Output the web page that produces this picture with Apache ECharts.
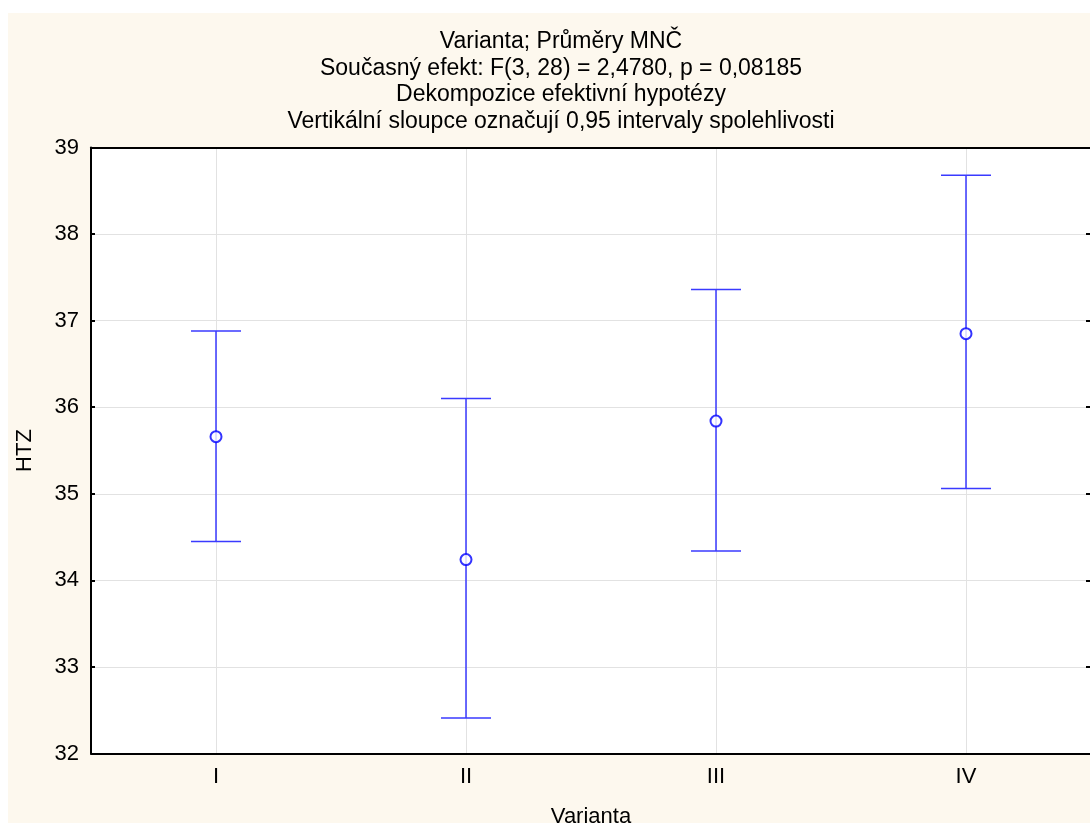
<!DOCTYPE html>
<html>
<head>
<meta charset="utf-8">
<script src="https://cdn.jsdelivr.net/npm/echarts@6/dist/echarts.min.js"></script>
<style>
  html, body { margin: 0; padding: 0; background: #ffffff; }
  #chart { position: absolute; left: 8px; top: 13px; width: 1082px; height: 810px; }
</style>
</head>
<body>
<div id="chart"></div>
<script>
// data
const categories = ['I', 'II', 'III', 'IV']
const means = [35.66, 34.24, 35.84, 36.85]
const lower = [34.45, 32.41, 34.34, 35.06]
const upper = [36.88, 36.10, 37.36, 38.68]
const yTicks = [32, 33, 34, 35, 36, 37, 38, 39]

const titleLines = [
  'Varianta; Průměry MNČ',
  'Současný efekt: F(3, 28) = 2,4780, p = 0,08185',
  'Dekompozice efektivní hypotézy',
  'Vertikální sloupce označují 0,95 intervaly spolehlivosti'
]

const font = 'Liberation Sans, Arial, sans-serif'
const blue = '#0000ff'
const barBlue = '#3a3aff'

const errData = categories.map((c, i) => [i, lower[i], upper[i]])

const chart = echarts.init(document.getElementById('chart'))
chart.setOption({
  backgroundColor: '#fdf8ee',
  animation: false,
  title: {
    text: titleLines.join('\n'),
    left: 548,
    top: 10,
    textAlign: 'center',
    textStyle: {
      fontFamily: font,
      fontSize: 23,
      fontWeight: 'normal',
      color: '#000',
      lineHeight: 26.8
    }
  },
  grid: {
    left: 83,
    top: 134.5,
    right: -1,
    bottom: 69.5,
    outerBoundsMode: 'none',
    containLabel: false,
    backgroundColor: '#ffffff',
    show: true,
    borderWidth: 0
  },
  xAxis: [{
    type: 'category',
    data: categories,
    boundaryGap: true,
    name: 'Varianta',
    nameLocation: 'middle',
    nameGap: 52,
    nameTextStyle: { fontFamily: font, fontSize: 22, color: '#000' },
    axisLine: { lineStyle: { color: '#000', width: 2 } },
    axisTick: { alignWithLabel: true, inside: true, length: 4, lineStyle: { color: '#000', width: 2 } },
    axisLabel: { fontFamily: font, fontSize: 22, color: '#000', margin: 12 },
    splitLine: { show: true, alignWithLabel: true, lineStyle: { color: '#e2e2e2', width: 1 } }
  }, {
    type: 'category',
    data: categories,
    position: 'top',
    boundaryGap: true,
    axisLine: { lineStyle: { color: '#000', width: 2 } },
    axisTick: { alignWithLabel: true, inside: true, length: 4, lineStyle: { color: '#000', width: 2 } },
    axisLabel: { show: false },
    splitLine: { show: false }
  }],
  yAxis: [{
    type: 'value',
    min: yTicks[0],
    max: yTicks[yTicks.length - 1],
    interval: 1,
    name: 'HTZ',
    nameLocation: 'middle',
    nameGap: 55,
    nameTextStyle: { fontFamily: font, fontSize: 22, color: '#000' },
    axisLine: { show: true, lineStyle: { color: '#000', width: 2 } },
    axisTick: { show: true, inside: true, length: 4, lineStyle: { color: '#000', width: 2 } },
    axisLabel: { fontFamily: font, fontSize: 22, color: '#000', margin: 12 },
    splitLine: { show: true, lineStyle: { color: '#e2e2e2', width: 1 } }
  }, {
    type: 'value',
    position: 'right',
    min: yTicks[0],
    max: yTicks[yTicks.length - 1],
    interval: 1,
    axisLine: { show: true, lineStyle: { color: '#000', width: 2 } },
    axisTick: { show: true, inside: true, length: 5, lineStyle: { color: '#000', width: 2 } },
    axisLabel: { show: false },
    splitLine: { show: false }
  }],
  series: [{
    type: 'custom',
    name: 'interval',
    data: errData,
    z: 3,
    renderItem: function (params, api) {
      const x = api.value(0)
      const lo = api.coord([x, api.value(1)])
      const hi = api.coord([x, api.value(2)])
      const half = 25
      const style = { stroke: barBlue, lineWidth: 1.5 }
      return {
        type: 'group',
        children: [
          { type: 'line', shape: { x1: lo[0], y1: lo[1], x2: hi[0], y2: hi[1] }, style: style },
          { type: 'line', shape: { x1: lo[0] - half, y1: lo[1], x2: lo[0] + half, y2: lo[1] }, style: style },
          { type: 'line', shape: { x1: hi[0] - half, y1: hi[1], x2: hi[0] + half, y2: hi[1] }, style: style }
        ]
      }
    }
  }, {
    type: 'scatter',
    name: 'mean',
    data: means,
    z: 4,
    symbol: 'circle',
    symbolSize: 11,
    itemStyle: { color: '#ffffff', borderColor: blue, borderWidth: 2 }
  }]
})
</script>
</body>
</html>
